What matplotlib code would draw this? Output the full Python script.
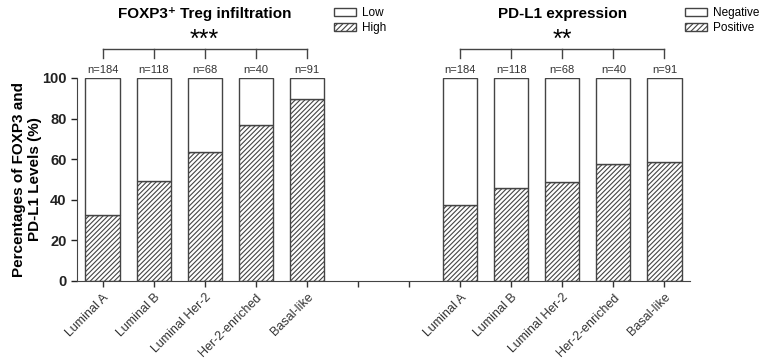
import matplotlib.pyplot as plt
import numpy as np
from matplotlib.patches import Patch
from matplotlib.transforms import ScaledTranslation

plt.rcParams['font.family'] = ['Liberation Sans', 'DejaVu Sans']
plt.rcParams['hatch.linewidth'] = 0.8

subtypes = ["Luminal A", "Luminal B", "Luminal Her-2", "Her-2-enriched", "Basal-like"]
n_cases = [184, 118, 68, 40, 91]
foxp3_high = [32.4, 49.5, 63.4, 76.8, 89.5]
pdl1_pos = [37.2, 46.0, 48.7, 57.6, 58.4]

x_left = np.arange(5)
x_right = np.arange(7, 12)
edge = "#444444"
hatch = "///////"

fig = plt.figure(figsize=(7.67, 3.59), dpi=100)
ax = fig.add_axes([77 / 767, 1 - 281 / 359, 613 / 767, 203 / 359])

for xs, vals in [(x_left, foxp3_high), (x_right, pdl1_pos)]:
    vals = np.array(vals)
    ax.bar(xs, vals, width=0.67, color="white", edgecolor=edge, hatch=hatch, linewidth=1)
    ax.bar(xs, 100 - vals, bottom=vals, width=0.67, color="white", edgecolor=edge, linewidth=1)
    for xi, n in zip(xs, n_cases):
        ax.text(xi, 101.3, f"n={n}", ha="center", va="bottom", fontsize=8, color="#333333")
    # bracket over the five groups
    ax.plot([xs[0], xs[-1]], [114.3, 114.3], color=edge, lw=1, clip_on=False)
    for xi in xs:
        ax.plot([xi, xi], [114.3, 109.8], color=edge, lw=1, clip_on=False)

ax.text(2, 115.2, "***", ha="center", va="baseline", fontsize=18)
ax.text(9, 115.2, "**", ha="center", va="baseline", fontsize=18)
ax.text(2, 131.5, "FOXP3\u207a Treg infiltration", ha="center", va="center", fontsize=11, fontweight="bold")
ax.text(9, 131.5, "PD-L1 expression", ha="center", va="center", fontsize=11, fontweight="bold")

ax.set_xlim(-0.5, 11.5)
ax.set_ylim(0, 100)
ax.set_xticks(np.arange(12))
ax.set_xticklabels(subtypes + ["", ""] + subtypes, rotation=45, ha="right", va="top",
                   rotation_mode="anchor", fontsize=9, color="#222222")
shift = ScaledTranslation(3 / 100, 4 / 100, fig.dpi_scale_trans)
for lab in ax.get_xticklabels():
    lab.set_transform(lab.get_transform() + shift)
ax.set_yticks([0, 20, 40, 60, 80, 100])
ax.tick_params(axis="y", labelsize=10.5, width=1, length=4, colors="#222222")
ax.tick_params(axis="x", width=1, length=4, colors="#333333")
for lab in ax.get_yticklabels():
    lab.set_fontweight("bold")
for s in ["top", "right"]:
    ax.spines[s].set_visible(False)
for s in ["left", "bottom"]:
    ax.spines[s].set_color(edge)
ax.set_ylabel("Percentages of FOXP3 and\nPD-L1 Levels (%)", fontsize=11, fontweight="bold",
              labelpad=0)

h_white = Patch(facecolor="white", edgecolor=edge)
h_hatch = Patch(facecolor="white", edgecolor=edge, hatch="//////")
leg_kw = dict(loc="upper left", frameon=False, fontsize=8.5, handlelength=1.85,
              handleheight=0.75, handletextpad=0.5, labelspacing=0.25,
              borderpad=0, borderaxespad=0)
fig.legend([h_white, h_hatch], ["Low", "High"],
           bbox_to_anchor=(334 / 767, 1 - 7 / 359), **leg_kw)
fig.legend([h_white, h_hatch], ["Negative", "Positive"],
           bbox_to_anchor=(685 / 767, 1 - 7 / 359), **leg_kw)

fig.savefig("out.png", dpi=100)
